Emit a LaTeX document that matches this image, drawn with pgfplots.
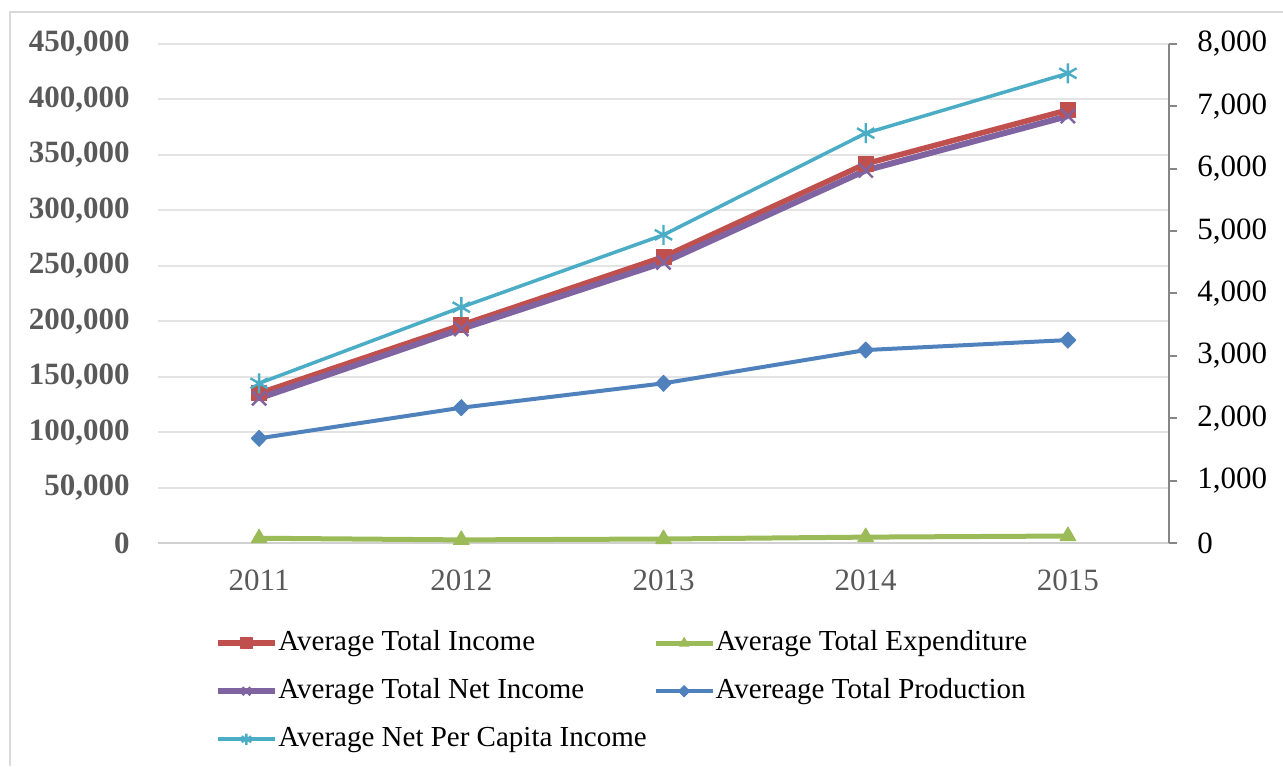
\documentclass[border=0pt]{standalone}
\usepackage{pgfplots}
\pgfplotsset{compat=1.18}
\usepackage{fontspec}
\setmainfont{Liberation Serif}

\definecolor{incRed}{HTML}{C0504D}
\definecolor{expGreen}{HTML}{9BBB59}
\definecolor{netPurple}{HTML}{8064A2}
\definecolor{prodBlue}{HTML}{4F81BD}
\definecolor{capCyan}{HTML}{4BACC6}
\definecolor{frameGray}{HTML}{D9D9D9}
\definecolor{gridGray}{HTML}{E3E3E3}
\definecolor{baseGray}{HTML}{D0D0D0}
\definecolor{labelGray}{HTML}{595959}
\definecolor{axisGray}{HTML}{868686}

\pgfplotsset{
  common/.style={
    at={(79pt,111.5pt)}, anchor=south west, scale only axis,
    width=505.5pt, height=249.5pt,
    xmin=2010.5, xmax=2015.5,
    /pgf/number format/assume math mode=true,
    /pgf/number format/fixed,
    /pgf/number format/1000 sep={,},
    scaled y ticks=false,
  },
}

\begin{document}
\begin{tikzpicture}
\useasboundingbox (0,0) rectangle (641.5pt,383pt);
% outer chart frame
\draw[frameGray, line width=1pt] (5pt,0pt) -- (5pt,377pt) -- (645pt,377pt);

% primary axis (left)
\begin{axis}[
  common,
  ymin=0, ymax=450000,
  xtick={2011,2012,2013,2014,2015},
  xticklabels={2011,2012,2013,2014,2015},
  ytick={0,50000,...,450000},
  axis x line*=bottom, axis y line*=left,
  y axis line style={draw=none},
  x axis line style={draw=baseGray, line width=1.25pt, -},
  major tick length=0pt,
  ymajorgrids, grid style={gridGray, line width=1pt},
  yticklabel style={font=\bfseries\fontsize{15.5}{18}\selectfont, text=labelGray, inner sep=0pt, xshift=-14pt},
  xticklabel style={font=\fontsize{15.5}{18}\selectfont, text=labelGray, inner sep=0pt, yshift=-13pt},
  legend columns=2,
  legend cell align=left,
  legend style={
    at={(axis description cs:0.0564,-0.174)}, anchor=north west,
    draw=none, fill=none, inner sep=0pt,
    font=\fontsize{14.5}{17}\selectfont,
    row sep=11pt,
    nodes={inner sep=0pt, text height=10pt, text depth=3pt},
    /tikz/every even column/.append style={column sep=3.5pt},
  },
  legend image code/.code={
    \draw[mark repeat=2, mark phase=2, #1, mark size=2.8pt]
      plot coordinates {(0pt,0pt) (14pt,0pt) (28.5pt,0pt)};
  },
]
\addplot[incRed, line width=2.75pt, line join=round,
  mark=square*, mark size=3.75pt, mark options={line width=0.5pt}]
  coordinates {(2011,135000) (2012,196500) (2013,258000) (2014,342000) (2015,390500)};
\addlegendentry{Average Total Income}

\addplot[expGreen, line width=2.5pt, line join=round,
  mark=triangle*, mark size=4.5pt, mark options={line width=0.5pt}]
  coordinates {(2011,4300) (2012,2800) (2013,3600) (2014,5300) (2015,6300)};
\addlegendentry{Average Total Expenditure}

\addplot[netPurple, line width=3pt, line join=round,
  mark=x, mark size=5pt, mark options={line width=1.2pt}]
  coordinates {(2011,130500) (2012,193000) (2013,253000) (2014,336000) (2015,385000)};
\addlegendentry{Average Total Net Income}

\addplot[prodBlue, line width=2pt, line join=round,
  mark=diamond*, mark size=4pt, mark options={line width=0.5pt, xscale=1.3}]
  coordinates {(2011,94400) (2012,122000) (2013,144000) (2014,174000) (2015,183000)};
\addlegendentry{Avereage Total Production}

\addlegendimage{capCyan, line width=1.75pt, mark=asterisk, mark size=5pt, mark options={line width=1.2pt}}
\addlegendentry{Average Net Per Capita Income}
\end{axis}

% secondary axis (right)
\begin{axis}[
  common,
  ymin=0, ymax=8000,
  ytick={0,1000,...,8000},
  axis x line=none, axis y line*=right,
  y axis line style={draw=axisGray, line width=1pt, -},
  ytick style={draw=axisGray, line width=1pt},
  major tick length=4pt, tick align=outside,
  yticklabel style={font=\fontsize{15.5}{18}\selectfont, text=black, inner sep=0pt, xshift=10pt},
]
\addplot[capCyan, line width=1.75pt, line join=round,
  mark=asterisk, mark size=5pt, mark options={line width=1.2pt}]
  coordinates {(2011,2560) (2012,3780) (2013,4940) (2014,6570) (2015,7530)};
\end{axis}
\end{tikzpicture}
\end{document}
